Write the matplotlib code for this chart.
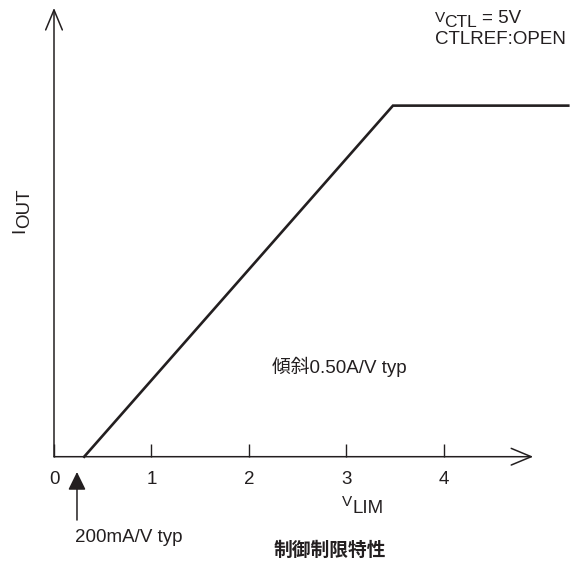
import matplotlib
matplotlib.use('Agg')
import matplotlib.pyplot as plt

## control-limit characteristic: I_OUT vs V_LIM
v_lim = [0.31, 3.48, 5.28]          # V
i_out = [0.0, 1.585, 1.585]         # A, slope 0.50 A/V then flat
x_ticks = [0, 1, 2, 3, 4]
x_tick_labels = ['0', '1', '2', '3', '4']
x_arrow_end = 4.92
y_arrow_end = 2.026
offset_mark = 0.236                 # V, where the 200mA/V arrow points

ink = '#231f20'
plt.rcParams['font.family'] = ['Liberation Sans', 'Noto Sans CJK JP']
plt.rcParams['font.size'] = 13.5

W, H = 582, 563


def px(x, y):
    # pixel position (top-left origin) -> figure fraction
    return x / W, 1 - y / H


def ploting():
    fig = plt.figure(figsize=(W / 100, H / 100), dpi=100)
    ax = fig.add_axes([54 / W, (H - 456.7) / H, 5.4 * 97.4 / W, 2.05 * 221.5 / H])
    ax.set_xlim(0, 5.4)
    ax.set_ylim(0, 2.05)
    for s in ax.spines.values():
        s.set_visible(False)

    # curve
    ax.plot(v_lim, i_out, color=ink, lw=1.9, solid_joinstyle='miter',
            clip_on=False)

    # axes as open arrows
    arrow = dict(arrowstyle='->,head_length=0.72,head_width=0.3',
                 mutation_scale=20, lw=1.1, color=ink, shrinkA=0, shrinkB=0)
    ax.annotate('', xy=(0, y_arrow_end), xytext=(0, 0), arrowprops=arrow,
                annotation_clip=False)
    ax.annotate('', xy=(x_arrow_end, 0), xytext=(0, 0), arrowprops=arrow,
                annotation_clip=False)

    # ticks point up into the plot, labels below
    ax.set_xticks(x_ticks)
    ax.set_xticklabels(x_tick_labels, fontsize=13.5, color=ink)
    ax.tick_params(axis='x', direction='in', length=9.5, width=1.0,
                   color=ink, pad=10)
    ax.set_yticks([])

    # small filled arrow marking the 200mA/V offset
    ax.annotate('', xy=(offset_mark, -0.069), xytext=(offset_mark, -0.286),
                arrowprops=dict(arrowstyle='-|>,head_length=0.55,head_width=0.27',
                                mutation_scale=20, lw=1.1, color=ink,
                                shrinkA=0, shrinkB=0),
                annotation_clip=False)

    # axis names with lowered subscripts
    fig.text(*px(20, 233), 'I', rotation=90, ha='center', va='bottom',
             fontsize=13.5, color=ink)
    fig.text(*px(25, 228), 'OUT', rotation=90, ha='center', va='bottom',
             fontsize=13.5, color=ink)
    fig.text(*px(342, 495), 'V', ha='left', va='top', fontsize=11, color=ink)
    fig.text(*px(353, 500), 'LIM', ha='left', va='top', fontsize=13.5, color=ink)

    # conditions
    fig.text(*px(435, 11), 'V', ha='left', va='top', fontsize=11, color=ink)
    fig.text(*px(444, 15), 'CTL', ha='left', va='top', fontsize=12.5, color=ink)
    fig.text(*px(482, 10), '= 5V', ha='left', va='top', fontsize=13.5, color=ink)
    fig.text(*px(435, 31), 'CTLREF:OPEN', ha='left', va='top', fontsize=13.5,
             color=ink)

    fig.text(*px(272, 367), '傾斜0.50A/V typ', ha='left', va='center',
             fontsize=13.5, color=ink)
    fig.text(*px(75, 538), '200mA/V typ', ha='left', va='center',
             fontsize=13.5, color=ink)
    fig.text(*px(330, 550), '制御制限特性', ha='center', va='center',
             fontsize=13.5, fontweight='bold', color=ink,
             family=['Noto Sans CJK JP'])

    fig.savefig('out.png', dpi=100)


if __name__ == '__main__':
    ploting()
